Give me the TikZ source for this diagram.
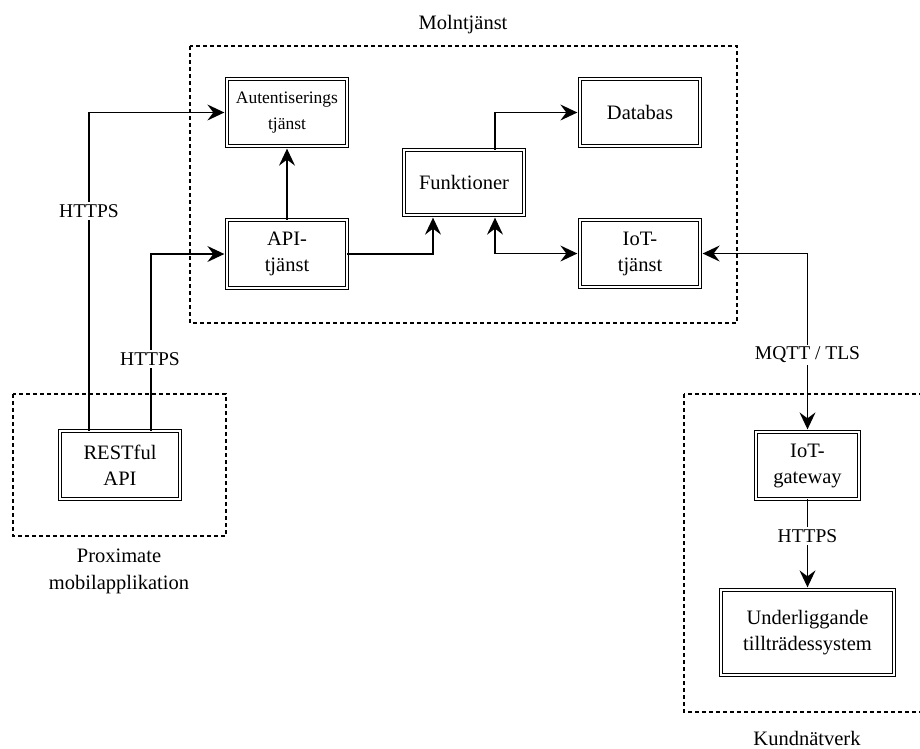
\documentclass[tikz,border=0pt]{standalone}
\usepackage{fontspec}
\setmainfont{Liberation Serif}
\usetikzlibrary{arrows.meta,calc}
\begin{document}
\begin{tikzpicture}[x=1pt,y=-1pt,
  box/.style={draw, double, line width=1.3pt, double distance=1.8pt, inner sep=0pt, align=center,
    font=\fontsize{20.5}{26}\selectfont},
  grp/.style={draw, dashed, dash pattern=on 4pt off 3pt, line width=1.1pt},
  grplbl/.style={align=center, font=\fontsize{20.5}{27}\selectfont, inner sep=0pt},
  lbl/.style={fill=white, inner sep=2pt, font=\fontsize{19.5}{24}\selectfont},
  conn/.style={line width=1.4pt},
  tip/.style={Stealth[length=17pt,width=16pt,inset=6pt]},
  arr/.style={conn, -{Stealth[length=17pt,width=16pt,inset=6pt]}, shorten >=2.2pt},
  arrb/.style={conn, {Stealth[length=17pt,width=16pt,inset=6pt]}-{Stealth[length=17pt,width=16pt,inset=6pt]}, shorten >=2.2pt, shorten <=2.2pt}
]
\useasboundingbox (0,0) rectangle (920,748);

% groups
\draw[grp] (190,46) rectangle (737,323);
\draw[grp] (13,394) rectangle (226,536);
\draw[grp] (684,394) rectangle (930,712);
\node[grplbl] (lmoln) at (463,25) {Molntjänst};
\node[grplbl] (lprox) at (119,571.5) {Proximate\\mobilapplikation};
\node[grplbl] (lkund) at (807,738) {Kundnätverk};

% nodes
\node[box, minimum width=119.6pt, minimum height=66.6pt, font=\fontsize{17.5}{26}\selectfont] (auth) at (287,112.5) {Autentiserings\\tjänst};
\node[box, minimum width=119.6pt, minimum height=67.6pt] (api) at (287,254) {API-\\tjänst};
\node[box, minimum width=119.6pt, minimum height=64.6pt] (fn) at (464,182.5) {Funktioner};
\node[box, minimum width=119.6pt, minimum height=66.6pt] (db) at (640,112.5) {Databas};
\node[box, minimum width=119.6pt, minimum height=66.6pt] (iot) at (640,253.5) {IoT-\\tjänst};
\node[box, minimum width=119.6pt, minimum height=67.6pt] (rest) at (120,465) {RESTful\\API};
\node[box, minimum width=102.6pt, minimum height=66.6pt] (gw) at (807.5,465.5) {IoT-\\gateway};
\node[box, minimum width=172.6pt, minimum height=84.6pt] (sys) at (807.5,632.5) {Underliggande\\tillträdessystem};

% connectors
\coordinate (r1) at ([xshift=-31pt]rest.north);
\coordinate (r2) at ([xshift=31pt]rest.north);
\coordinate (f1) at ([xshift=-31pt]fn.south);
\coordinate (f2) at ([xshift=31pt]fn.south);
\coordinate (f3) at ([xshift=31pt]fn.north);

\draw[arr] (r1) |- (auth.west);
\draw[arr] (r2) |- (api.west);
\draw[arr] (api.north) -- (auth.south);
\draw[arr] (api.east) -| (f1);
\draw[arr] (f3) |- (db.west);
\draw[arrb] (f2) |- (iot.west);
\draw[arrb] (iot.east) -| (gw.north);
\draw[arr] (gw.south) -- (sys.north);

% edge labels
\node[lbl] (h1) at (89,211) {HTTPS};
\node[lbl] (h2) at (150,359) {HTTPS};
\node[lbl] (mq) at (807.5,355) {MQTT / TLS};
\node[lbl] (h3) at (807.5,536) {HTTPS};
\end{tikzpicture}
\end{document}
